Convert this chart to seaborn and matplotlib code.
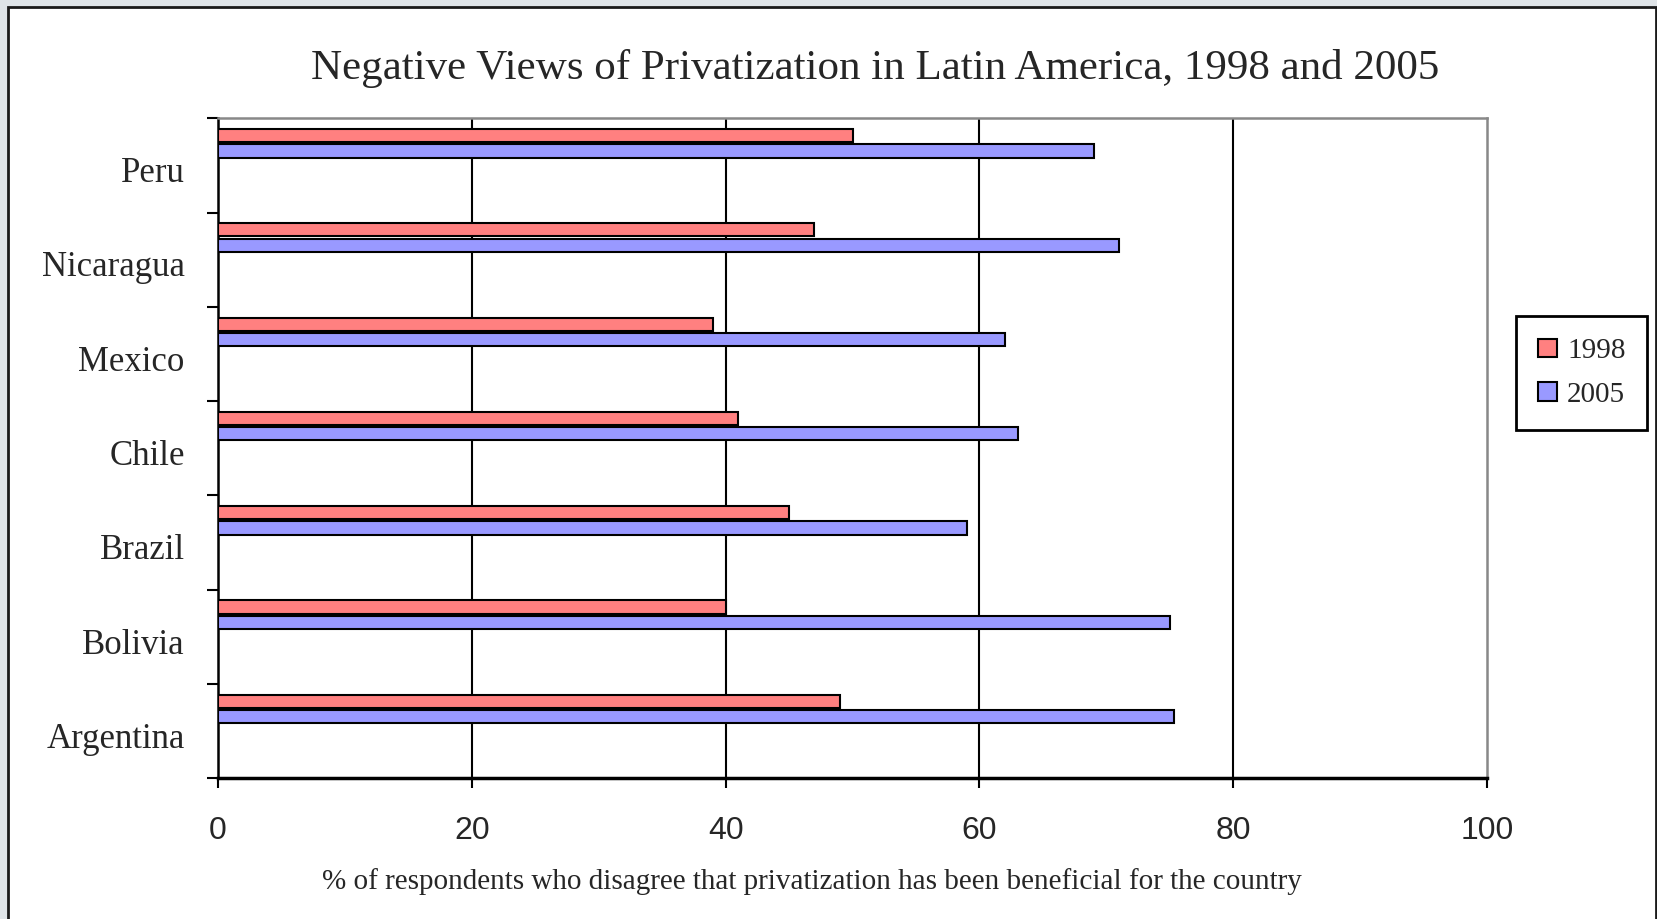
import pandas as pd
import matplotlib.pyplot as plt
import seaborn as sns
from matplotlib.patches import Rectangle

# Datos
paises = ["Peru", "Nicaragua", "Mexico", "Chile", "Brazil", "Bolivia", "Argentina"]
valores_1998 = [50, 47, 39, 41, 45, 40, 49]
valores_2005 = [69, 71, 62, 63, 59, 75, 75.3]
anios = ["1998", "2005"]
colores = ["#FF8080", "#9999FF"]
x_ticks = [0, 20, 40, 60, 80, 100]

df = pd.DataFrame({
    "pais": paises * 2,
    "valor": valores_1998 + valores_2005,
    "anio": [anios[0]] * len(paises) + [anios[1]] * len(paises),
})

sns.set_style("white")
plt.rcParams["font.family"] = ["Liberation Serif", "DejaVu Serif"]

fig = plt.figure(figsize=(16.58, 9.19), dpi=100, facecolor="#dfe4e8")
fig.patches.append(Rectangle((8 / 1658, -0.1), 1648 / 1658, 1.1 - 7 / 919,
                             transform=fig.transFigure, facecolor="white",
                             edgecolor="#1a1a1a", linewidth=2, zorder=-1))
ax = fig.add_axes([0.1315, 0.1531, 0.7654, 0.7181])

sns.barplot(data=df, y="pais", x="valor", hue="anio", order=paises, hue_order=anios,
            palette=colores, orient="h", width=0.325, gap=0.14,
            edgecolor="black", linewidth=1.5, saturation=1, ax=ax, zorder=3)

# Ejes
ax.set_xlim(0, 100)
ax.set_ylim(len(paises) - 0.264, -0.264)
ax.set_xticks(x_ticks)
ax.set_xticklabels([str(t) for t in x_ticks], fontfamily="Liberation Sans", fontsize=23)
ax.set_yticks([i - 0.264 for i in range(len(paises) + 1)])
ax.set_yticklabels([])
ax.set_yticks([i + 0.28 for i in range(len(paises))], minor=True)
ax.set_yticklabels(paises, minor=True, fontsize=25)
ax.tick_params(axis="y", which="major", direction="out", length=8, width=1.5, color="black", left=True)
ax.tick_params(axis="y", which="minor", length=0, pad=24)
ax.tick_params(axis="x", direction="out", length=7, width=1.5, color="black", bottom=True, pad=20)
ax.set_ylabel("")
ax.set_xlabel("")

ax.grid(False)
for x in x_ticks[1:-1]:
    ax.axvline(x, color="black", linewidth=1.5, zorder=1)

ax.spines["left"].set_color("black")
ax.spines["left"].set_linewidth(1.8)
ax.spines["bottom"].set_color("black")
ax.spines["bottom"].set_linewidth(2.5)
ax.spines["top"].set_color("#888888")
ax.spines["top"].set_linewidth(1.8)
ax.spines["right"].set_color("#888888")
ax.spines["right"].set_linewidth(1.8)
for s in ax.spines.values():
    s.set_visible(True)

# Leyenda
handles, labels = ax.get_legend_handles_labels()
ax.legend(handles, labels, loc="center", bbox_to_anchor=(0.954, 0.594),
          bbox_transform=fig.transFigure, fontsize=21, frameon=True, fancybox=False,
          edgecolor="black", framealpha=1, handlelength=0.65, handleheight=0.6,
          handletextpad=0.35, labelspacing=0.6, borderpad=0.75, borderaxespad=0)
ax.get_legend().get_frame().set_linewidth(2)

fig.text(0.528, 0.926, "Negative Views of Privatization in Latin America, 1998 and 2005",
         ha="center", va="center", fontsize=31)
fig.text(0.49, 0.041, "% of respondents who disagree that privatization has been beneficial for the country",
         ha="center", va="center", fontsize=21)

plt.savefig("out.png", dpi=100, facecolor=fig.get_facecolor())
